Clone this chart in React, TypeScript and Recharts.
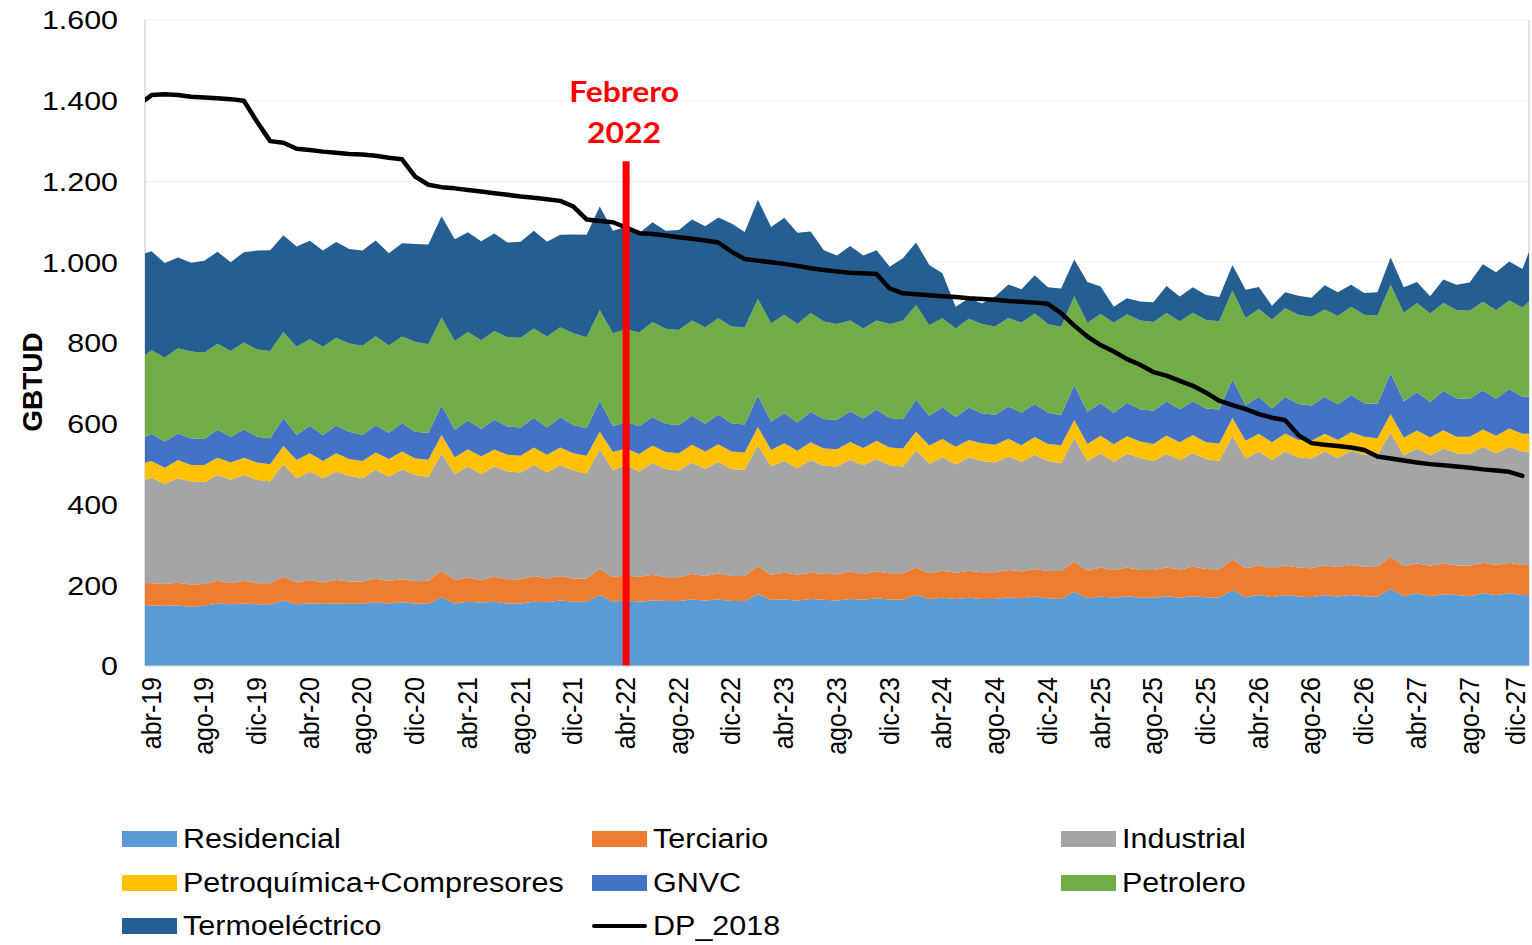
import React from 'react'
import {
  ComposedChart,
  Area,
  Line,
  XAxis,
  YAxis,
  CartesianGrid,
  ReferenceLine
} from 'recharts'

// one entry per month, mar-19 and ene-28 only show as the clipped edges
const MONTHS = [
  'mar-19', 'abr-19', 'may-19', 'jun-19', 'jul-19', 'ago-19', 'sep-19', 'oct-19', 'nov-19', 'dic-19',
  'ene-20', 'feb-20', 'mar-20', 'abr-20', 'may-20', 'jun-20', 'jul-20', 'ago-20', 'sep-20', 'oct-20', 'nov-20', 'dic-20',
  'ene-21', 'feb-21', 'mar-21', 'abr-21', 'may-21', 'jun-21', 'jul-21', 'ago-21', 'sep-21', 'oct-21', 'nov-21', 'dic-21',
  'ene-22', 'feb-22', 'mar-22', 'abr-22', 'may-22', 'jun-22', 'jul-22', 'ago-22', 'sep-22', 'oct-22', 'nov-22', 'dic-22',
  'ene-23', 'feb-23', 'mar-23', 'abr-23', 'may-23', 'jun-23', 'jul-23', 'ago-23', 'sep-23', 'oct-23', 'nov-23', 'dic-23',
  'ene-24', 'feb-24', 'mar-24', 'abr-24', 'may-24', 'jun-24', 'jul-24', 'ago-24', 'sep-24', 'oct-24', 'nov-24', 'dic-24',
  'ene-25', 'feb-25', 'mar-25', 'abr-25', 'may-25', 'jun-25', 'jul-25', 'ago-25', 'sep-25', 'oct-25', 'nov-25', 'dic-25',
  'ene-26', 'feb-26', 'mar-26', 'abr-26', 'may-26', 'jun-26', 'jul-26', 'ago-26', 'sep-26', 'oct-26', 'nov-26', 'dic-26',
  'ene-27', 'feb-27', 'mar-27', 'abr-27', 'may-27', 'jun-27', 'jul-27', 'ago-27', 'sep-27', 'oct-27', 'nov-27', 'dic-27',
  'ene-28'
]

const TICK_LABELS = [
  'abr-19', 'ago-19', 'dic-19', 'abr-20', 'ago-20', 'dic-20', 'abr-21', 'ago-21', 'dic-21',
  'abr-22', 'ago-22', 'dic-22', 'abr-23', 'ago-23', 'dic-23', 'abr-24', 'ago-24', 'dic-24',
  'abr-25', 'ago-25', 'dic-25', 'abr-26', 'ago-26', 'dic-26', 'abr-27', 'ago-27', 'dic-27'
]

const Y_TICKS = [0, 200, 400, 600, 800, 1000, 1200, 1400, 1600]

const RESIDENCIAL = [
  152, 150, 149, 150, 147, 149, 155, 153, 155, 153,
  153, 162, 153, 155, 154, 155, 154, 154, 158, 155, 158, 155,
  154, 170, 155, 159, 157, 159, 155, 155, 159, 158, 162, 159,
  159, 176, 159, 163, 159, 162, 161, 161, 165, 162, 165, 161,
  161, 178, 164, 165, 162, 166, 164, 162, 166, 164, 168, 165,
  164, 176, 166, 169, 166, 169, 166, 166, 170, 168, 172, 168,
  166, 184, 168, 172, 169, 173, 169, 169, 173, 169, 173, 170,
  169, 188, 170, 176, 170, 176, 172, 170, 176, 172, 176, 173,
  172, 191, 173, 180, 173, 178, 176, 173, 180, 176, 180, 176,
  176
]

const TERCIARIO = [
  55, 55, 54, 56, 55, 54, 56, 52, 56, 52,
  52, 59, 54, 58, 53, 58, 55, 55, 58, 56, 57, 55,
  57, 65, 58, 60, 56, 62, 60, 60, 64, 59, 61, 58,
  58, 64, 62, 61, 62, 64, 59, 59, 63, 61, 64, 62,
  62, 69, 62, 66, 64, 65, 64, 65, 68, 64, 66, 65,
  66, 68, 64, 67, 65, 67, 66, 66, 68, 66, 68, 67,
  69, 74, 68, 72, 69, 71, 69, 69, 71, 70, 73, 70,
  70, 76, 72, 73, 72, 73, 72, 72, 73, 73, 74, 73,
  73, 80, 74, 74, 75, 76, 73, 75, 76, 74, 76, 74,
  74
]

const INDUSTRIAL = [
  250, 261, 248, 259, 255, 252, 262, 256, 262, 256,
  252, 279, 258, 268, 258, 268, 262, 256, 270, 258, 272, 263,
  257, 292, 262, 275, 262, 274, 267, 264, 275, 262, 275, 267,
  260, 296, 264, 274, 260, 277, 268, 264, 276, 265, 277, 264,
  263, 300, 269, 277, 264, 279, 268, 267, 277, 269, 279, 267,
  264, 290, 271, 281, 268, 281, 276, 272, 281, 272, 283, 273,
  267, 306, 272, 283, 268, 282, 277, 270, 281, 271, 281, 273,
  269, 306, 272, 282, 268, 282, 273, 272, 282, 270, 284, 277,
  278, 307, 275, 285, 274, 285, 278, 277, 287, 277, 287, 281,
  281
]

const PETROQUIMICA = [
  42, 42, 40, 45, 41, 43, 43, 43, 43, 43,
  43, 45, 45, 46, 43, 46, 42, 43, 43, 44, 44, 41,
  43, 45, 42, 43, 44, 41, 41, 42, 43, 44, 43, 43,
  44, 44, 45, 41, 44, 43, 42, 43, 44, 43, 43, 44,
  43, 45, 40, 44, 43, 44, 43, 43, 44, 43, 45, 44,
  45, 46, 45, 45, 44, 43, 44, 44, 44, 41, 44, 42,
  45, 45, 42, 43, 43, 43, 41, 42, 46, 44, 45, 41,
  43, 44, 44, 44, 44, 45, 43, 44, 44, 45, 45, 45,
  41, 46, 44, 44, 44, 45, 41, 43, 43, 43, 45, 44,
  44
]

const GNVC = [
  61, 67, 65, 66, 66, 64, 69, 64, 70, 64,
  64, 69, 62, 68, 64, 68, 67, 64, 67, 65, 70, 66,
  66, 74, 68, 71, 68, 74, 70, 70, 74, 68, 75, 70,
  68, 77, 64, 66, 69, 71, 70, 69, 72, 69, 74, 70,
  69, 78, 70, 74, 70, 76, 73, 73, 76, 73, 77, 73,
  72, 80, 74, 79, 74, 80, 74, 74, 80, 81, 82, 78,
  74, 87, 80, 81, 78, 83, 80, 82, 84, 82, 84, 84,
  84, 97, 88, 91, 84, 91, 89, 87, 92, 88, 92, 83,
  85, 101, 90, 95, 88, 97, 95, 93, 97, 92, 98, 92,
  92
]

const PETROLERO = [
  198, 207, 208, 211, 215, 214, 213, 212, 215, 216,
  216, 213, 219, 214, 219, 218, 219, 221, 221, 216, 215, 223,
  220, 217, 220, 219, 220, 220, 221, 222, 221, 225, 223, 227,
  225, 225, 230, 229, 232, 235, 235, 236, 236, 239, 238, 240,
  241, 239, 244, 244, 244, 244, 241, 237, 225, 223, 221, 233,
  244, 234, 224, 220, 219, 220, 221, 219, 219, 222, 224, 219,
  219, 220, 220, 221, 223, 219, 220, 220, 219, 217, 219, 219,
  219, 219, 216, 218, 220, 219, 221, 220, 216, 219, 219, 219,
  219, 219, 219, 221, 219, 218, 219, 219, 219, 219, 219, 221,
  250
]

const TERMOELECTRICO = [
  259, 245, 234, 225, 220, 228, 228, 220, 224, 245,
  250, 240, 248, 244, 238, 237, 234, 236, 237, 228, 231, 242,
  247, 251, 252, 247, 245, 241, 235, 238, 242, 235, 229, 245,
  254, 256, 254, 254, 246, 247, 243, 248, 250, 250, 250, 255,
  236, 246, 238, 240, 226, 202, 177, 170, 184, 181, 174, 142,
  155, 155, 149, 112, 54, 51, 51, 74, 83, 83, 95, 91,
  95, 91, 101, 68, 40, 40, 47, 49, 67, 62, 63, 62,
  60, 63, 70, 55, 34, 40, 47, 47, 60, 59, 54, 54,
  58, 68, 63, 52, 43, 58, 62, 70, 93, 94, 97, 95,
  152
]

const DP_2018 = [
  1390, 1414, 1416, 1414, 1410, 1408, 1406, 1404, 1400, 1348,
  1300, 1296, 1281, 1278, 1274, 1271, 1268, 1267, 1264, 1259, 1255, 1212,
  1192, 1186, 1183, 1179, 1175, 1171, 1167, 1163, 1160, 1156, 1152, 1138,
  1106, 1102, 1099, 1086, 1072, 1070, 1066, 1062, 1058, 1054, 1049, 1026,
  1008, 1004, 1000, 996, 991, 985, 981, 977, 974, 973, 971, 935,
  923, 921, 918, 916, 914, 911, 909, 907, 904, 902, 900, 897,
  874, 843, 816, 795, 779, 760, 746, 728, 719, 706, 694, 677,
  657, 646, 636, 624, 615, 609, 572, 552, 548, 545, 541, 535,
  519, 514, 509, 504, 500, 497, 494, 491, 487, 484, 481, 471,
  null
]

const SERIES = [
  { key: 'residencial', name: 'Residencial', color: '#5B9BD5', values: RESIDENCIAL },
  { key: 'terciario', name: 'Terciario', color: '#ED7D31', values: TERCIARIO },
  { key: 'industrial', name: 'Industrial', color: '#A5A5A5', values: INDUSTRIAL },
  { key: 'petroquimica', name: 'Petroquímica+Compresores', color: '#FFC000', values: PETROQUIMICA },
  { key: 'gnvc', name: 'GNVC', color: '#4472C4', values: GNVC },
  { key: 'petrolero', name: 'Petrolero', color: '#70AD47', values: PETROLERO },
  { key: 'termo', name: 'Termoeléctrico', color: '#255E91', values: TERMOELECTRICO }
]

const MARKER_MONTH = 'abr-22'
const FONT = '"Liberation Sans", Arial, sans-serif'
const CHART_W = 1532
const CHART_H = 945

// month i sits in the middle of its slot, slots start at the first shown month
const data = MONTHS.map((month, i) => {
  const row: any = { month, t: i - 0.5, dp: DP_2018[i] }
  SERIES.forEach((s) => {
    row[s.key] = s.values[i]
  })
  return row
})

const GRID_T = TICK_LABELS.map((l) => MONTHS.indexOf(l) - 1)
const LABEL_T = TICK_LABELS.map((l) => MONTHS.indexOf(l) - 0.5)
const MARKER_T = MONTHS.indexOf(MARKER_MONTH) - 0.5
const X_MAX = MONTHS.length - 2

const formatThousands = (v: number) => String(v).replace(/\B(?=(\d{3})+(?!\d))/g, '.')

const YTick = ({ x, y, payload }: any) => (
  <g transform={`translate(${x},${y}) scale(1.17,1)`}>
    <text textAnchor="end" dy="0.36em" fontSize={26} fill="#000" fontFamily={FONT}>
      {formatThousands(payload.value)}
    </text>
  </g>
)

// keep the last rotated label inside the picture
const XTick = ({ x, y, payload }: any) => (
  <g transform={`translate(${Math.min(x, CHART_W - 16)},${y}) scale(1.08,1)`}>
    <text transform="rotate(-90)" textAnchor="end" dy="0.33em" fontSize={25} fill="#000" fontFamily={FONT}>
      {MONTHS[payload.value + 0.5]}
    </text>
  </g>
)

const MarkerLabel = ({ viewBox }: any) => {
  const cx = viewBox.x
  const top = viewBox.y
  return (
    <g
      transform={`translate(${cx - 2},${top}) scale(1.1,1)`}
      fill="#FF0000"
      fontFamily="Lato, 'Open Sans', sans-serif"
      fontWeight={700}
      fontSize={29}
    >
      <text x={0} y={-59} textAnchor="middle">Febrero</text>
      <text x={0} y={-18} textAnchor="middle">2022</text>
    </g>
  )
}

const LEGEND_COLS = [122, 592, 1061]
const LEGEND_ROWS = [839, 883, 926]

function ChartLegend() {
  const items = [
    ...SERIES.map((s) => ({ name: s.name, color: s.color, line: false })),
    { name: 'DP_2018', color: '#000', line: true }
  ]
  return (
    <>
      {items.map((item, i) => (
        <div
          key={item.name}
          style={{
            position: 'absolute',
            left: LEGEND_COLS[i % 3],
            top: LEGEND_ROWS[Math.floor(i / 3)] - 16,
            height: 32,
            display: 'flex',
            alignItems: 'center'
          }}
        >
          {item.line ? (
            <div style={{ width: 55, height: 4, borderRadius: 2, background: item.color }} />
          ) : (
            <div style={{ width: 55, height: 16, background: item.color }} />
          )}
          <span
            style={{
              marginLeft: 6,
              fontSize: 27,
              lineHeight: '32px',
              color: '#000',
              whiteSpace: 'nowrap',
              display: 'inline-block',
              transform: 'scaleX(1.13)',
              transformOrigin: 'left center'
            }}
          >
            {item.name}
          </span>
        </div>
      ))}
    </>
  )
}

export default function App() {
  return (
    <div style={{ position: 'absolute', left: 0, top: 0, width: CHART_W, height: CHART_H, fontFamily: FONT, background: '#fff' }}>
      <ComposedChart width={CHART_W} height={CHART_H} data={data} margin={{ top: 20, right: 3, left: 0, bottom: 171 }}>
        <CartesianGrid vertical={false} stroke="#efefef" xAxisId="grid" />
        <CartesianGrid horizontal={false} stroke="#d9d9d9" strokeWidth={1.5} xAxisId="grid" />
        <XAxis
          xAxisId="grid"
          dataKey="t"
          type="number"
          domain={[0, X_MAX]}
          allowDataOverflow
          ticks={GRID_T}
          interval={0}
          tick={false}
          tickSize={7}
          tickLine={{ stroke: '#d9d9d9' }}
          axisLine={{ stroke: '#d9d9d9' }}
          height={8}
        />
        <XAxis
          xAxisId="lab"
          dataKey="t"
          type="number"
          domain={[0, X_MAX]}
          allowDataOverflow
          ticks={LABEL_T}
          interval={0}
          tick={<XTick />}
          tickLine={false}
          axisLine={false}
          tickSize={0}
          tickMargin={3}
          height={100}
        />
        <YAxis
          domain={[0, 1600]}
          ticks={Y_TICKS}
          interval={0}
          width={145}
          axisLine={false}
          tickLine={false}
          tickSize={6}
          tickMargin={21}
          tick={<YTick />}
          label={{
            content: ({ viewBox }: any) => (
              <text
                transform={`translate(${viewBox.x + 42},${viewBox.y + 362}) rotate(-90)`}
                textAnchor="middle"
                fontFamily={FONT}
                fontWeight={700}
                fontSize={28}
                fill="#000"
              >
                GBTUD
              </text>
            )
          }}
        />
        {SERIES.map((s) => (
          <Area
            key={s.key}
            xAxisId="grid"
            type="linear"
            dataKey={s.key}
            name={s.name}
            stackId="1"
            stroke="none"
            fill={s.color}
            fillOpacity={1}
            isAnimationActive={false}
            dot={false}
            activeDot={false}
          />
        ))}
        <Line
          xAxisId="grid"
          type="linear"
          dataKey="dp"
          name="DP_2018"
          stroke="#000"
          strokeWidth={4.5}
          strokeLinecap="round"
          strokeLinejoin="round"
          dot={false}
          activeDot={false}
          isAnimationActive={false}
        />
        <ReferenceLine
          xAxisId="grid"
          segment={[
            { x: MARKER_T, y: 0 },
            { x: MARKER_T, y: 1250 }
          ]}
          stroke="#FF0000"
          strokeWidth={7}
          label={<MarkerLabel />}
        />
      </ComposedChart>
      <ChartLegend />
    </div>
  )
}
